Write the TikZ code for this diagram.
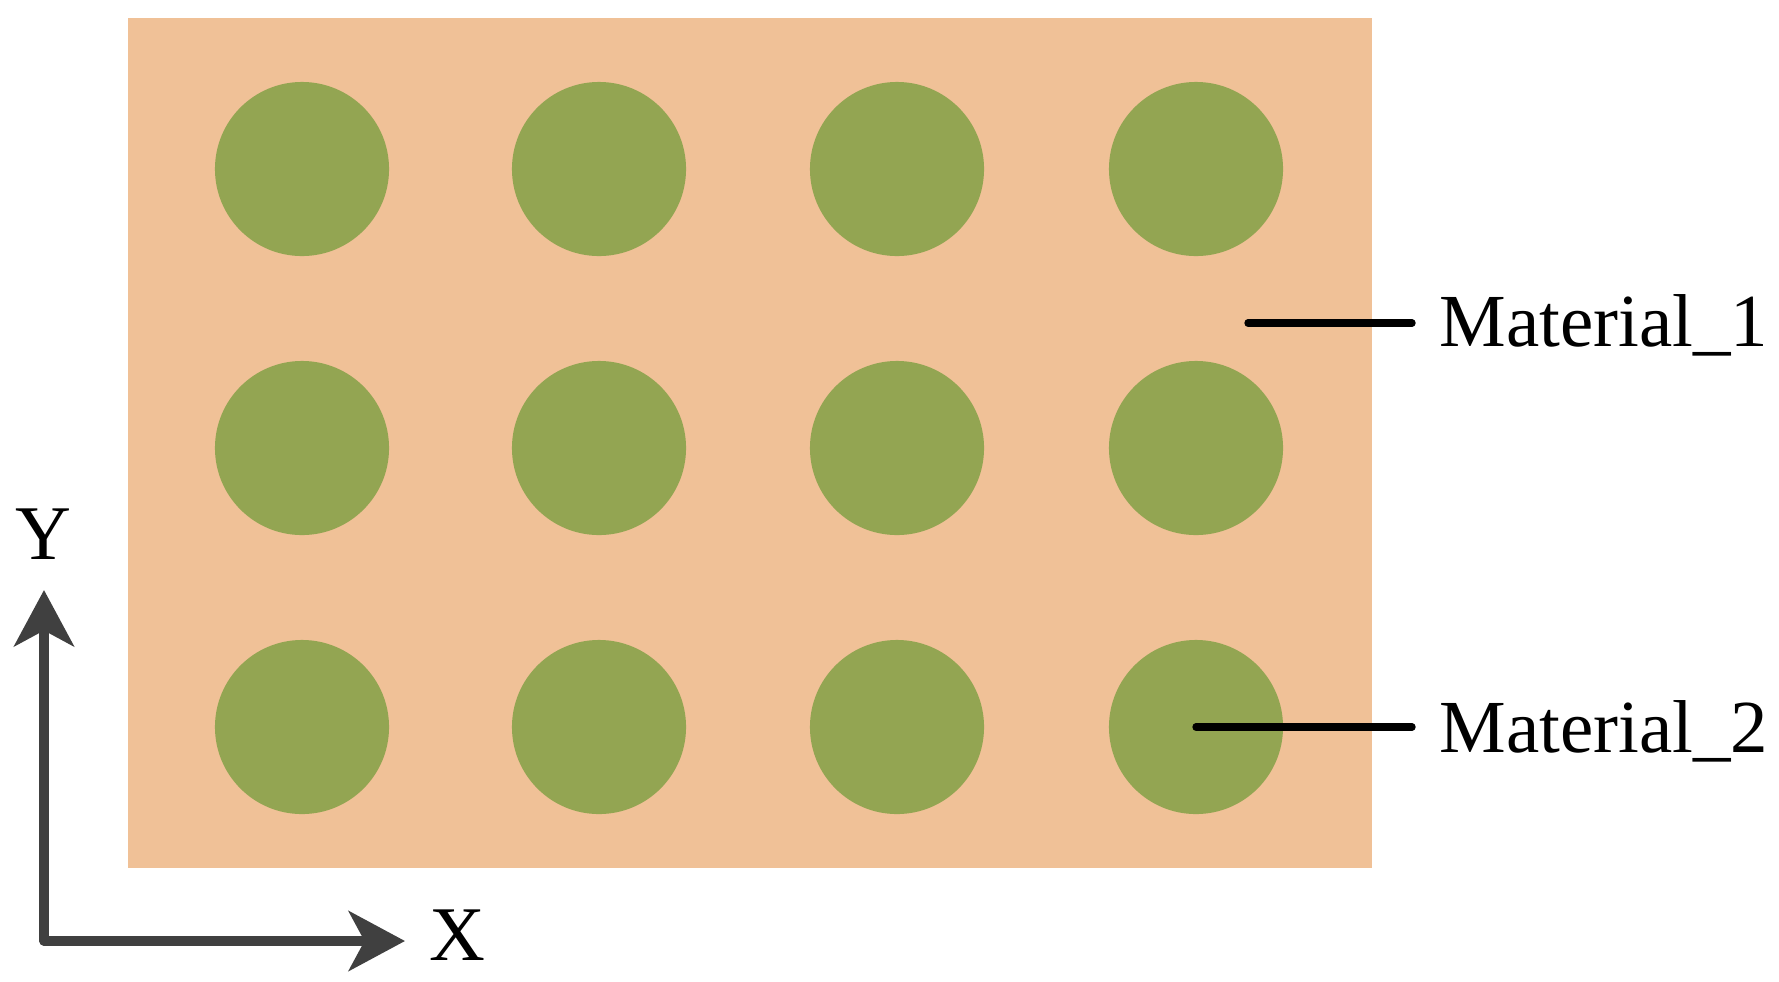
\documentclass[tikz,border=0pt]{standalone}
\usepackage{fontspec}
\setmainfont{Liberation Serif}
\usetikzlibrary{arrows.meta}
\definecolor{peach}{RGB}{240,193,151}
\definecolor{olive}{RGB}{147,165,82}
\definecolor{axisgray}{RGB}{64,64,64}

\begin{document}
\begin{tikzpicture}[x=0.01cm, y=-0.01cm]

\useasboundingbox (0,0) rectangle (1779,981);

\fill[peach] (128,18) rectangle (1372,868);

\begin{scope}[every node/.style={circle, fill=olive, minimum size=1.74cm, inner sep=0pt}]
    \foreach \col/\x in {1/302, 2/599, 3/897, 4/1196} {
        \foreach \row/\y in {1/169, 2/448, 3/727} {
            \node (c\col\row) at (\x,\y) {};
        }
    }
\end{scope}

\begin{scope}[every node/.style={anchor=base west, inner sep=0pt, font=\fontsize{21.3}{24}\selectfont}]
    \node (m1) at (1439,346) {Material\_1};
    \node (m2) at (1439,752) {Material\_2};
\end{scope}

\coordinate (p1) at (1248,323);
\coordinate (q1) at (1412,323);
\coordinate (q2) at (1412,727);

\begin{scope}[line width=2.1pt, line cap=round]
    \draw (p1) -- (q1);
    \draw (c43.center) -- (q2);
\end{scope}

\begin{scope}[every node/.style={inner sep=0pt, font=\fontsize{22}{24}\selectfont}]
    \node (ylab) at (43,534) {Y};
    \node (xlab) at (457,935) {X};
\end{scope}

\coordinate (o) at (44,941);
\coordinate (ytip) at (44,590);
\coordinate (xtip) at (405,941);

\begin{scope}[axisgray, line width=2.65pt, line join=round, line cap=round,
              -{Stealth[length=16pt, width=17pt, inset=4.5pt, line cap=butt]}]
    \draw (o) -- (ytip);
    \draw (o) -- (xtip);
\end{scope}

\end{tikzpicture}
\end{document}
